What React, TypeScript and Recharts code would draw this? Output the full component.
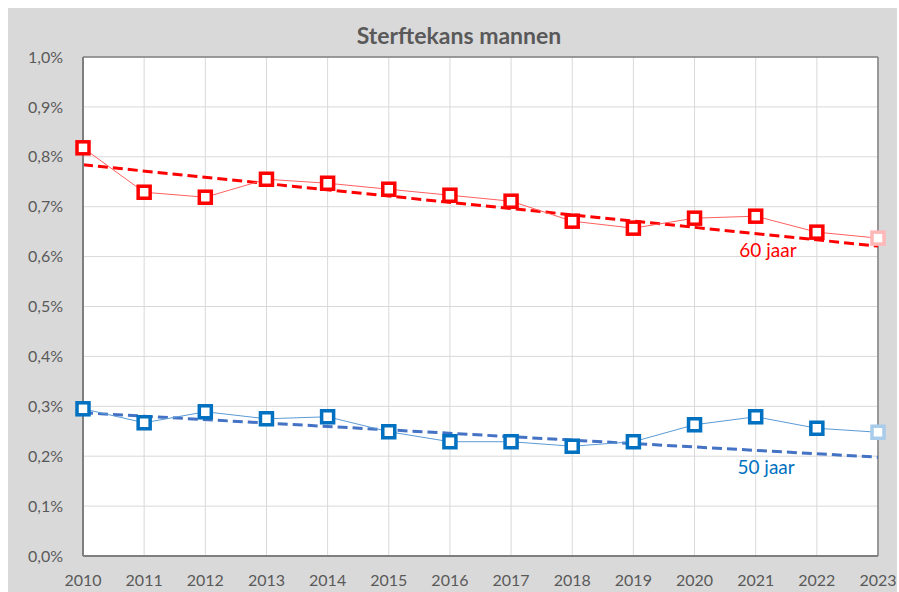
import {
  LineChart,
  Line,
  XAxis,
  YAxis,
  CartesianGrid,
  ReferenceLine,
  ReferenceDot,
} from "recharts";

const years = [2010, 2011, 2012, 2013, 2014, 2015, 2016, 2017, 2018, 2019, 2020, 2021, 2022, 2023];
const kans60 = [0.818, 0.729, 0.719, 0.755, 0.747, 0.735, 0.723, 0.711, 0.671, 0.657, 0.677, 0.681, 0.649, 0.637];
const kans50 = [0.295, 0.267, 0.289, 0.275, 0.279, 0.249, 0.229, 0.229, 0.22, 0.229, 0.263, 0.279, 0.256, 0.248];
const trend60 = [0.784, 0.621];
const trend50 = [0.287, 0.198];
const yTicks = [0, 0.1, 0.2, 0.3, 0.4, 0.5, 0.6, 0.7, 0.8, 0.9, 1.0];

const last = years.length - 1;
const data = years.map((year, i) => ({
  year,
  k60: kans60[i],
  k50: kans50[i],
  t60: i === 0 ? trend60[0] : i === last ? trend60[1] : null,
  t50: i === 0 ? trend50[0] : i === last ? trend50[1] : null,
}));

const FONT = "Lato, 'Liberation Sans', sans-serif";
const GREY = "#595959";

const pct = (v: number) => v.toFixed(1).replace(".", ",") + "%";

const squareDot = (color: string, lastColor: string) => (props: any) => {
  const { cx, cy, index } = props;
  if (cx == null || cy == null) return <g key={`d-${index}`} />;
  const s = 12;
  return (
    <rect
      key={`d-${index}`}
      x={cx - s / 2}
      y={cy - s / 2}
      width={s}
      height={s}
      fill="#fff"
      stroke={index === last ? lastColor : color}
      strokeWidth={3.5}
    />
  );
};

const App = () => {
  return (
    <div style={{ position: "relative", width: 889, height: 584, background: "#D9D9D9", overflow: "hidden" }}>
      <style>{`html,body{overflow:hidden} body{margin:8px 0 0 8px}`}</style>
      <div
        style={{
          position: "absolute",
          left: 0,
          width: 889,
          paddingLeft: 13,
          boxSizing: "border-box",
          top: 13,
          textAlign: "center",
          fontFamily: FONT,
          fontWeight: 700,
          fontSize: 23,
          color: GREY,
        }}
      >
        Sterftekans mannen
      </div>
      <LineChart
        width={889}
        height={584}
        data={data}
        margin={{ top: 49, right: 19, bottom: 0, left: 0 }}
      >
        <CartesianGrid stroke="#D9D9D9" fill="#fff" />
        <XAxis
          dataKey="year"
          type="number"
          domain={[2010, 2023]}
          ticks={years}
          height={36}
          tickSize={0}
          tickMargin={19}
          axisLine={{ stroke: "#7F7F7F", strokeWidth: 2 }}
          tick={{ fill: GREY, fontSize: 16, fontFamily: FONT }}
        />
        <YAxis
          domain={[0, 1]}
          ticks={yTicks}
          width={75}
          tickSize={0}
          tickMargin={20}
          tickFormatter={pct}
          axisLine={{ stroke: "#7F7F7F", strokeWidth: 2 }}
          tick={{ fill: GREY, fontSize: 16, fontFamily: FONT }}
        />
        <ReferenceLine y={1} stroke="#7F7F7F" strokeWidth={1.5} />
        <ReferenceLine x={2023} stroke="#7F7F7F" strokeWidth={1.5} />
        <Line
          dataKey="t60"
          connectNulls
          stroke="#F00"
          strokeWidth={3}
          strokeDasharray="10 5"
          dot={false}
          isAnimationActive={false}
        />
        <Line
          dataKey="t50"
          connectNulls
          stroke="#4472C4"
          strokeWidth={3}
          strokeDasharray="10 5"
          dot={false}
          isAnimationActive={false}
        />
        <Line
          dataKey="k60"
          stroke="#FF6060"
          strokeWidth={1}
          dot={squareDot("#FF0000", "#FFB8B8")}
          isAnimationActive={false}
        />
        <Line
          dataKey="k50"
          stroke="#5B9BD5"
          strokeWidth={1}
          dot={squareDot("#0070C0", "#A9CCEA")}
          isAnimationActive={false}
        />
        <ReferenceDot
          x={2021.2}
          y={0.613}
          r={0}
          stroke="none"
          label={{ value: "60 jaar", position: "center", fill: "#FF0000", fontSize: 19, fontFamily: FONT }}
        />
        <ReferenceDot
          x={2021.17}
          y={0.178}
          r={0}
          stroke="none"
          label={{ value: "50 jaar", position: "center", fill: "#0070C0", fontSize: 19, fontFamily: FONT }}
        />
      </LineChart>
    </div>
  );
};

export default App;
